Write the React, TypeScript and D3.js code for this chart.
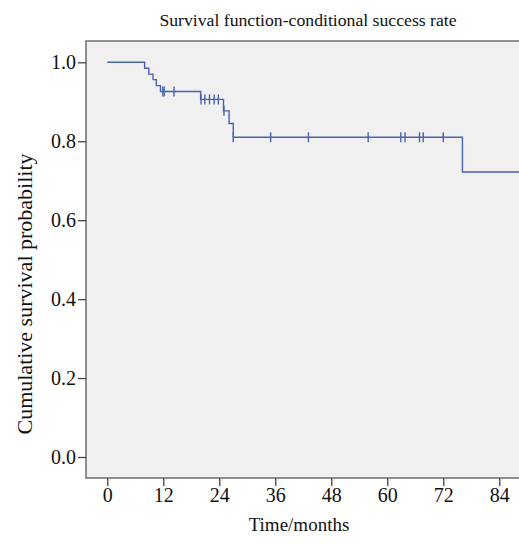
import { useEffect, useRef } from "react";
import * as d3 from "d3";

// Kaplan-Meier steps
const eventMonths = [8.0, 8.9, 9.8, 10.5, 11.4, 20.0, 24.9, 26.1, 27.0, 76.1];
const survivalAfter = [0.985, 0.97, 0.956, 0.941, 0.926, 0.906, 0.877, 0.845, 0.81, 0.722];
const censoredMonths = [
  11.9, 12.2, 14.3, 20.1, 20.9, 21.9, 22.9, 23.8, 25.0, 27.0, 35.0, 43.1, 55.9,
  62.9, 63.8, 66.9, 67.7, 72.0,
];
const lastFollowUp = 92;
const xTicks = [0, 12, 24, 36, 48, 60, 72, 84];
const yTicks = [0, 0.2, 0.4, 0.6, 0.8, 1.0];

const title = "Survival function-conditional success rate";
const xTitle = "Time/months";
const yTitle = "Cumulative survival probability";

const survivalAt = (t: number) => {
  let s = 1;
  eventMonths.forEach((e, i) => {
    if (e <= t) s = survivalAfter[i];
  });
  return s;
};

const App = () => {
  const ref = useRef<SVGSVGElement>(null);

  useEffect(() => {
    const width = 519;
    const height = 544;
    const plot = { left: 86, top: 41, right: 540, bottom: 478 };
    const font = "'Liberation Serif', 'Times New Roman', serif";
    const lineColor = "#4a62ad";

    const svg = d3.select(ref.current);
    svg.selectAll("*").remove();
    svg.attr("width", width).attr("height", height);

    const x = d3.scaleLinear().domain([0, 84]).range([107.3, 499.3]);
    const y = d3.scaleLinear().domain([0, 1]).range([457, 62.3]);

    svg
      .append("defs")
      .append("clipPath")
      .attr("id", "plotClip")
      .append("rect")
      .attr("x", plot.left)
      .attr("y", plot.top)
      .attr("width", plot.right - plot.left)
      .attr("height", plot.bottom - plot.top);

    svg
      .append("rect")
      .attr("x", plot.left)
      .attr("y", plot.top)
      .attr("width", plot.right - plot.left)
      .attr("height", plot.bottom - plot.top)
      .attr("fill", "#f0f0f0")
      .attr("stroke", "#6e6e6e")
      .attr("stroke-width", 1.5);

    // axes
    const axisY = d3
      .axisLeft(y)
      .tickValues(yTicks)
      .tickSize(8)
      .tickPadding(2)
      .tickFormat(d3.format(".1f"));
    const gy = svg
      .append("g")
      .attr("transform", `translate(${plot.left},0)`)
      .call(axisY);

    const axisX = d3.axisBottom(x).tickValues(xTicks).tickSize(8).tickPadding(2);
    const gx = svg
      .append("g")
      .attr("transform", `translate(0,${plot.bottom})`)
      .call(axisX);

    [gx, gy].forEach((g) => {
      g.select(".domain").remove();
      g.selectAll(".tick line").attr("stroke", "#444").attr("stroke-width", 1.3);
      g.selectAll(".tick text")
        .attr("fill", "#111")
        .style("font-family", font)
        .style("font-size", "20px");
    });

    // survival curve
    const points: [number, number][] = [[0, 1]];
    eventMonths.forEach((t, i) => points.push([t, survivalAfter[i]]));
    points.push([lastFollowUp, survivalAfter[survivalAfter.length - 1]]);

    const line = d3
      .line<[number, number]>()
      .x((d) => x(d[0]))
      .y((d) => y(d[1]))
      .curve(d3.curveStepAfter);

    const curve = svg.append("g").attr("clip-path", "url(#plotClip)");
    curve
      .append("path")
      .datum(points)
      .attr("d", line)
      .attr("fill", "none")
      .attr("stroke", lineColor)
      .attr("stroke-width", 1.4);

    curve
      .selectAll("line.censor")
      .data(censoredMonths)
      .enter()
      .append("line")
      .attr("class", "censor")
      .attr("x1", (d) => x(d))
      .attr("x2", (d) => x(d))
      .attr("y1", (d) => y(survivalAt(d)) - 5)
      .attr("y2", (d) => y(survivalAt(d)) + 5)
      .attr("stroke", lineColor)
      .attr("stroke-width", 1.4);

    // titles
    svg
      .append("text")
      .attr("x", 308)
      .attr("y", 26)
      .attr("text-anchor", "middle")
      .style("font-family", font)
      .style("font-size", "17.7px")
      .attr("fill", "#111")
      .text(title);

    svg
      .append("text")
      .attr("x", 299)
      .attr("y", 531)
      .attr("text-anchor", "middle")
      .style("font-family", font)
      .style("font-size", "19px")
      .attr("fill", "#111")
      .text(xTitle);

    svg
      .append("text")
      .attr("transform", "translate(32,294) rotate(-90)")
      .attr("text-anchor", "middle")
      .style("font-family", font)
      .style("font-size", "22px")
      .attr("fill", "#111")
      .text(yTitle);
  }, []);

  return (
    <svg
      ref={ref}
      style={{ position: "absolute", left: 0, top: 0, background: "#fff" }}
    />
  );
};

export default App;
